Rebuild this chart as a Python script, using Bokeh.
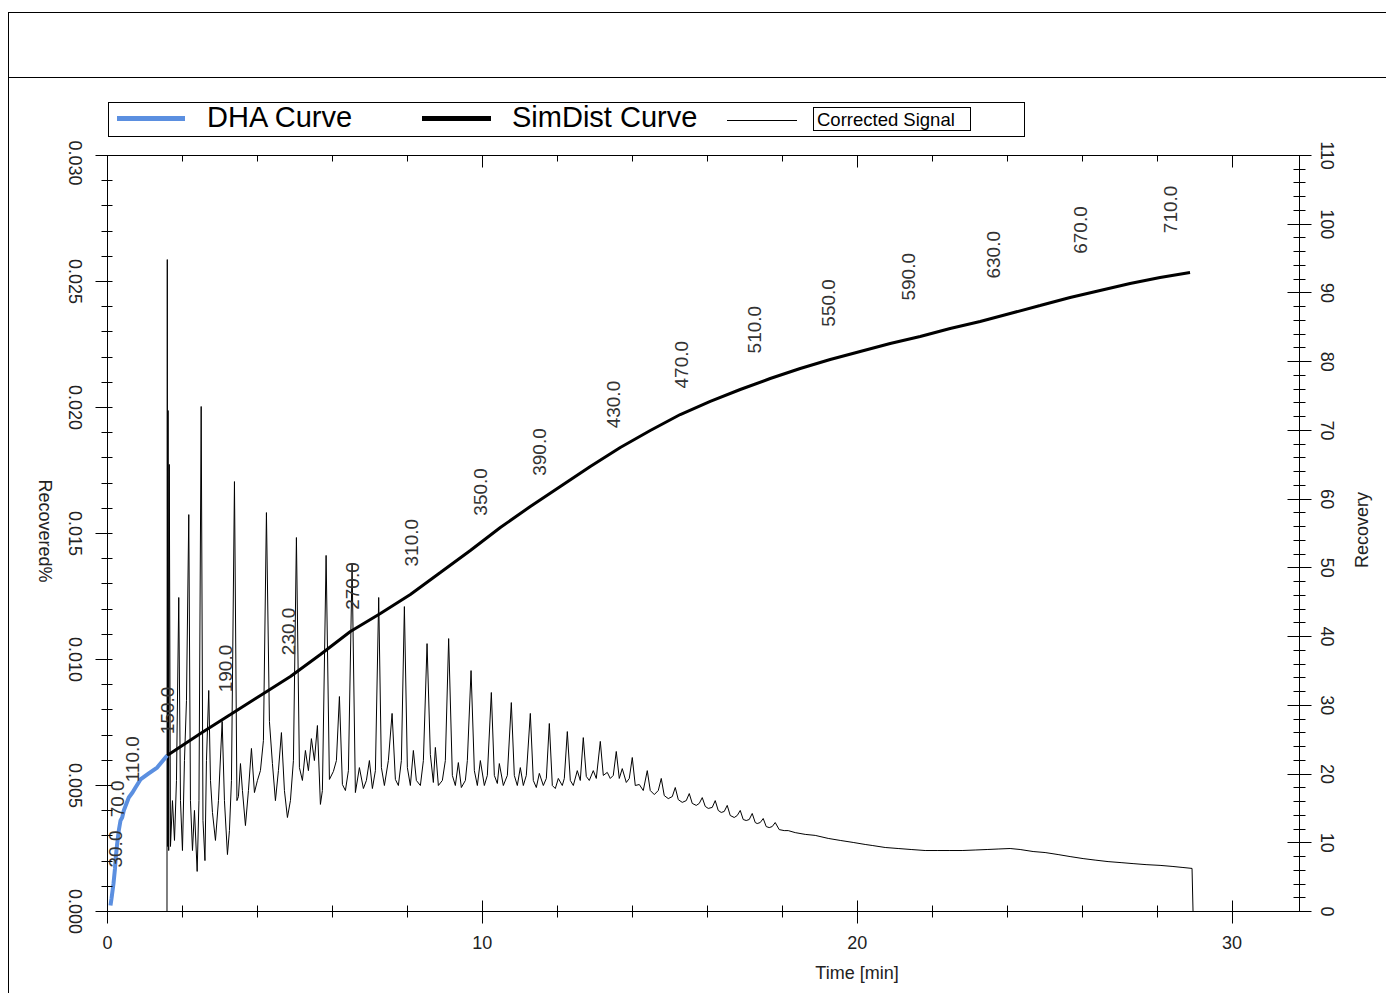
import math
from bokeh.plotting import figure
from bokeh.models import (Range1d, LinearAxis, SingleIntervalTicker, PrintfTickFormatter,
                          ColumnDataSource, FixedTicker, Div, CustomJSTickFormatter)
from bokeh.layouts import column, row
from bokeh.core.properties import value
from bokeh.embed import file_html
from bokeh.resources import INLINE

# ---------------- data ----------------
series_names = ["DHA Curve", "SimDist Curve", "Corrected Signal"]
x_title = "Time [min]"
left_title = "Recovered%"
right_title = "Recovery"
left_ticks = [0.0, 0.005, 0.010, 0.015, 0.020, 0.025, 0.030]

# Corrected signal (left axis, Recovered%)
signal_time = [
    1.587, 1.595, 1.605, 1.616, 1.632, 1.648, 1.680, 1.733, 1.787, 1.840,
    1.901, 1.947, 2.000, 2.053, 2.107, 2.168, 2.213, 2.267, 2.320, 2.392,
    2.440, 2.499, 2.547, 2.600, 2.640, 2.701, 2.747, 2.800, 2.880, 2.960,
    3.059, 3.120, 3.200, 3.253, 3.307, 3.387, 3.453, 3.493, 3.547, 3.600,
    3.680, 3.760, 3.840, 3.920, 4.000, 4.080, 4.160, 4.240, 4.320, 4.400,
    4.480, 4.560, 4.640, 4.720, 4.800, 4.880, 4.960, 5.040, 5.120, 5.200,
    5.280, 5.360, 5.440, 5.520, 5.600, 5.680, 5.733, 5.832, 5.920, 6.027,
    6.107, 6.187, 6.267, 6.347, 6.427, 6.525, 6.613, 6.720, 6.827, 6.907,
    6.987, 7.067, 7.147, 7.235, 7.307, 7.387, 7.493, 7.592, 7.680, 7.760,
    7.840, 7.920, 8.000, 8.080, 8.160, 8.240, 8.347, 8.427, 8.525, 8.613,
    8.693, 8.747, 8.827, 8.933, 9.013, 9.101, 9.200, 9.280, 9.360, 9.440,
    9.547, 9.600, 9.699, 9.787, 9.867, 9.947, 10.053, 10.133, 10.240, 10.320,
    10.400, 10.453, 10.560, 10.667, 10.773, 10.853, 10.933, 11.013, 11.093, 11.173,
    11.280, 11.360, 11.440, 11.520, 11.627, 11.707, 11.787, 11.867, 11.947, 12.027,
    12.133, 12.187, 12.267, 12.347, 12.427, 12.533, 12.613, 12.693, 12.773, 12.853,
    12.960, 13.040, 13.147, 13.227, 13.333, 13.413, 13.493, 13.573, 13.653, 13.733,
    13.840, 13.920, 14.000, 14.080, 14.187, 14.293, 14.400, 14.480, 14.587, 14.693,
    14.773, 14.853, 14.960, 15.067, 15.147, 15.227, 15.333, 15.440, 15.520, 15.600,
    15.707, 15.787, 15.867, 15.947, 16.027, 16.133, 16.213, 16.293, 16.373, 16.453,
    16.533, 16.613, 16.720, 16.800, 16.880, 16.960, 17.040, 17.120, 17.200, 17.280,
    17.333, 17.413, 17.493, 17.573, 17.653, 17.733, 17.813, 17.920, 18.053, 18.160,
    18.347, 18.613, 18.880, 19.227, 19.547, 19.893, 20.213, 20.400, 20.747, 21.093,
    21.440, 21.813, 22.133, 22.453, 22.800, 23.147, 23.467, 23.760, 24.080, 24.347,
    24.693, 25.013, 25.360, 25.680, 26.027, 26.347, 26.693, 27.040, 27.360, 27.707,
    28.080, 28.400, 28.667, 28.933, 28.960,
]
signal_value = [
    0.0, 0.02587, 0.00258, 0.01988, 0.00242, 0.01774, 0.00258, 0.00440, 0.00282, 0.00520,
    0.01246, 0.00440, 0.00242, 0.00599, 0.00837, 0.01575, 0.00440, 0.00242, 0.00401, 0.00159,
    0.00440, 0.02004, 0.00361, 0.00202, 0.00599, 0.00877, 0.00520, 0.00393, 0.00282, 0.00440,
    0.00754, 0.00440, 0.00226, 0.00321, 0.00520, 0.01706, 0.00440, 0.00456, 0.00587, 0.00480,
    0.00341, 0.00480, 0.00647, 0.00472, 0.00520, 0.00559, 0.00679, 0.01583, 0.00754, 0.00587,
    0.00440, 0.00559, 0.00710, 0.00480, 0.00373, 0.00440, 0.00599, 0.01484, 0.00571, 0.00520,
    0.00639, 0.00559, 0.00686, 0.00599, 0.00738, 0.00425, 0.00480, 0.01413, 0.00524, 0.00556,
    0.00599, 0.00853, 0.00504, 0.00480, 0.00559, 0.01377, 0.00472, 0.00571, 0.00488, 0.00520,
    0.00599, 0.00488, 0.00559, 0.01246, 0.00571, 0.00500, 0.00599, 0.00786, 0.00524, 0.00500,
    0.00599, 0.01210, 0.00571, 0.00500, 0.00639, 0.00520, 0.00500, 0.00599, 0.01063, 0.00623,
    0.00512, 0.00651, 0.00500, 0.00520, 0.00599, 0.01083, 0.00540, 0.00500, 0.00591, 0.00492,
    0.00520, 0.00599, 0.00956, 0.00559, 0.00500, 0.00599, 0.00500, 0.00540, 0.00869, 0.00540,
    0.00508, 0.00587, 0.00500, 0.00540, 0.00829, 0.00540, 0.00500, 0.00571, 0.00500, 0.00540,
    0.00786, 0.00520, 0.00492, 0.00548, 0.00500, 0.00528, 0.00746, 0.00500, 0.00488, 0.00528,
    0.00500, 0.00528, 0.00714, 0.00520, 0.00500, 0.00559, 0.00520, 0.00690, 0.00536, 0.00520,
    0.00559, 0.00528, 0.00675, 0.00540, 0.00552, 0.00528, 0.00540, 0.00635, 0.00528, 0.00567,
    0.00512, 0.00528, 0.00611, 0.00500, 0.00504, 0.00480, 0.00559, 0.00480, 0.00464, 0.00480,
    0.00528, 0.00460, 0.00448, 0.00456, 0.00492, 0.00444, 0.00433, 0.00440, 0.00468, 0.00429,
    0.00421, 0.00429, 0.00452, 0.00417, 0.00409, 0.00413, 0.00440, 0.00401, 0.00393, 0.00397,
    0.00421, 0.00381, 0.00373, 0.00381, 0.00401, 0.00365, 0.00361, 0.00365, 0.00389, 0.00353,
    0.00349, 0.00353, 0.00369, 0.00337, 0.00333, 0.00337, 0.00353, 0.00325, 0.00321, 0.00321,
    0.00313, 0.00306, 0.00302, 0.00290, 0.00282, 0.00274, 0.00266, 0.00262, 0.00254, 0.00250,
    0.00246, 0.00242, 0.00242, 0.00242, 0.00242, 0.00244, 0.00246, 0.00248, 0.00250, 0.00246,
    0.00238, 0.00234, 0.00226, 0.00218, 0.00210, 0.00204, 0.00198, 0.00194, 0.00190, 0.00186,
    0.00183, 0.00179, 0.00175, 0.00171, 0.0,
]

# SimDist curve (right axis, Recovery)
simdist_time = [1.592, 2.480, 3.280, 4.080, 4.880, 5.680, 6.480, 7.280, 8.080, 8.880,
                9.680, 10.480, 11.280, 12.080, 12.880, 13.680, 14.480, 15.280, 16.080, 16.880,
                17.680, 18.480, 19.280, 20.080, 20.880, 21.680, 22.480, 23.280, 24.080, 24.880,
                25.680, 26.480, 27.280, 28.080, 28.880]
simdist_rec = [22.70, 25.90, 28.66, 31.43, 34.19, 37.39, 40.74, 43.36, 46.12, 49.32,
               52.53, 55.87, 58.93, 61.84, 64.75, 67.51, 69.99, 72.31, 74.21, 75.95,
               77.55, 79.01, 80.32, 81.48, 82.64, 83.66, 84.83, 85.85, 87.01, 88.17,
               89.34, 90.36, 91.37, 92.25, 92.97]

# DHA curve (right axis, Recovery)
dha_time = [0.080, 0.107, 0.160, 0.200, 0.213, 0.253, 0.301, 0.347, 0.392, 0.435,
            0.568, 0.667, 0.747, 0.880, 1.101, 1.325, 1.592]
dha_rec = [0.87, 1.89, 4.07, 6.26, 7.42, 9.60, 11.79, 13.24, 13.68, 14.70,
           16.59, 17.31, 18.04, 19.21, 20.08, 20.95, 22.70]

# boiling point labels along the curve
bp_labels = ["30.0", "70.0", "110.0", "150.0", "190.0", "230.0", "270.0", "310.0", "350.0",
             "390.0", "430.0", "470.0", "510.0", "550.0", "590.0", "630.0", "670.0", "710.0"]
bp_time = [0.21, 0.26, 0.675, 1.613, 3.147, 4.836, 6.525, 8.107, 9.947,
           11.52, 13.49, 15.31, 17.25, 19.23, 21.36, 23.63, 25.97, 28.37]
bp_rec = [6.4, 13.7, 18.8, 25.8, 31.9, 37.3, 43.9, 50.2, 57.6,
          63.4, 70.3, 76.1, 81.2, 85.1, 88.9, 92.1, 95.7, 98.7]

# ---------------- style ----------------
FONT = "Liberation Sans"
BLUE = "#5b8fe0"
TXT = "#222222"
FONT_CSS = f"font-family:'{FONT}',Arial,sans-serif;"
PLOT_H = 818
BORDER_TOP = 15
BORDER_BOTTOM = 47


# ---------------- HTML helpers (header band, legend, axis titles) ----------------
def block(left, top, w, h, style):
    return (f'<div style="position:absolute;left:{left}px;top:{top}px;width:{w}px;'
            f'height:{h}px;box-sizing:border-box;{style}"></div>')


def label(left, top, size, text):
    return (f'<span style="position:absolute;left:{left}px;top:{top}px;font-size:{size}px;'
            f'line-height:{size}px;white-space:nowrap;color:#000;">{text}</span>')


def centered(cx, cy, rot, text):
    return (f'<span style="position:absolute;left:{cx}px;top:{cy}px;font-size:18px;'
            f'line-height:18px;white-space:nowrap;color:{TXT};'
            f'transform:translate(-50%,-50%) rotate({rot}deg);">{text}</span>')


def canvas(w, h, inner):
    return (f'<div style="position:relative;width:{w}px;height:{h}px;overflow:hidden;'
            f'{FONT_CSS}">' + inner + '</div>')


legend_html = canvas(1377, 127,
                     block(0, 64, 1377, 1, "background:#000;")
                     + block(99, 89, 917, 35, "border:1px solid #000;")
                     + block(108, 103, 68, 5, f"background:{BLUE};")
                     + block(413, 103, 69, 5, "background:#000;")
                     + block(718, 107, 70, 1, "background:#000;")
                     + block(804, 94, 158, 24, "border:1px solid #000;")
                     + label(198, 90, 29, series_names[0])
                     + label(503, 90, 29, series_names[1])
                     + label(808, 98, 18.5, series_names[2]))
hdr = Div(text=legend_html, width=1377, height=127, margin=0)

left_div = Div(text=canvas(51, PLOT_H, centered(36, 391, 90, left_title)),
               width=51, height=PLOT_H, margin=0)
right_div = Div(text=canvas(34, PLOT_H, centered(10, 390, -90, right_title)),
                width=34, height=PLOT_H, margin=0)
bottom_div = Div(text=canvas(1377, 35, centered(848, 15, 0, x_title)),
                 width=1377, height=35, margin=0)

# ---------------- main chart ----------------
y_left = Range1d(0, 0.030)
p = figure(width=1260, height=PLOT_H, x_range=Range1d(0, 31.8), y_range=y_left,
           x_axis_type=None, y_axis_type=None, toolbar_location=None,
           output_backend="svg", min_border_left=15, min_border_right=53,
           min_border_top=BORDER_TOP, min_border_bottom=BORDER_BOTTOM,
           outline_line_color="black")
p.extra_y_ranges = {"rec": Range1d(0, 110)}


def style_axis(ax, mj_in, mj_out, mn_in, mn_out):
    ax.axis_line_color = "black"
    ax.major_tick_line_color = "black"
    ax.minor_tick_line_color = "black"
    ax.major_tick_in = mj_in
    ax.major_tick_out = mj_out
    ax.minor_tick_in = mn_in
    ax.minor_tick_out = mn_out
    ax.major_label_text_font = FONT
    ax.major_label_text_font_size = "18px"
    ax.major_label_text_color = TXT


blank = CustomJSTickFormatter(code="return ''")

# bottom axis
xb = LinearAxis(ticker=SingleIntervalTicker(interval=10, num_minor_ticks=5))
style_axis(xb, 11, 12, 6, 6)
xb.major_label_standoff = 12
p.add_layout(xb, "below")

# top axis (ticks only)
xt = LinearAxis(ticker=SingleIntervalTicker(interval=10, num_minor_ticks=5), formatter=blank)
style_axis(xt, 12, 0, 6, 0)
xt.major_label_standoff = 0
p.add_layout(xt, "above")

# left axis: ticks (labels are drawn by the narrow label strip beside it)
yl = LinearAxis(ticker=SingleIntervalTicker(interval=0.005, num_minor_ticks=5), formatter=blank)
style_axis(yl, 0, 12, 5, 6)
yl.major_label_standoff = 0
p.add_layout(yl, "left")

# right axis
yr = LinearAxis(y_range_name="rec", ticker=SingleIntervalTicker(interval=10, num_minor_ticks=5))
style_axis(yr, 12, 12, 6, 6)
yr.major_label_orientation = "vertical"
yr.major_label_standoff = 9
p.add_layout(yr, "right")

# narrow strip that carries the left tick labels (clockwise-rotated, centred on the ticks)
strip = figure(width=32, height=PLOT_H, x_range=Range1d(0, 1), y_range=y_left,
               x_axis_type=None, y_axis_type=None, toolbar_location=None,
               output_backend="svg", min_border_left=0, min_border_right=31,
               min_border_top=BORDER_TOP, min_border_bottom=BORDER_BOTTOM,
               outline_line_color=None)
yl_lab = LinearAxis(ticker=FixedTicker(ticks=left_ticks),
                    formatter=PrintfTickFormatter(format="%.3f"))
style_axis(yl_lab, 0, 0, 0, 0)
yl_lab.axis_line_color = None
yl_lab.major_tick_line_color = None
yl_lab.minor_tick_line_color = None
yl_lab.major_label_orientation = "vertical"
yl_lab.major_label_standoff = 7
strip.add_layout(yl_lab, "right")

# data marks
sig_src = ColumnDataSource(dict(t=signal_time, v=signal_value))
p.line("t", "v", source=sig_src, line_color="black", line_width=1)

sd_src = ColumnDataSource(dict(t=simdist_time, r=simdist_rec))
p.line("t", "r", source=sd_src, y_range_name="rec", line_color="black", line_width=3)

dha_src = ColumnDataSource(dict(t=dha_time, r=dha_rec))
p.line("t", "r", source=dha_src, y_range_name="rec", line_color=BLUE, line_width=4)

bp_src = ColumnDataSource(dict(t=bp_time, r=bp_rec, s=bp_labels))
p.text("t", "r", text="s", source=bp_src, y_range_name="rec", angle=math.pi / 2,
       text_align="left", text_baseline="middle", text_font=value(FONT),
       text_font_size="19px", text_color="#333333")

layout = column(hdr, row(left_div, strip, p, right_div), bottom_div,
                styles={"margin-top": "12px", "margin-left": "8px",
                        "border-left": "1px solid black",
                        "border-top": "1px solid black"})

open("out.html", "w").write(file_html(layout, INLINE))
